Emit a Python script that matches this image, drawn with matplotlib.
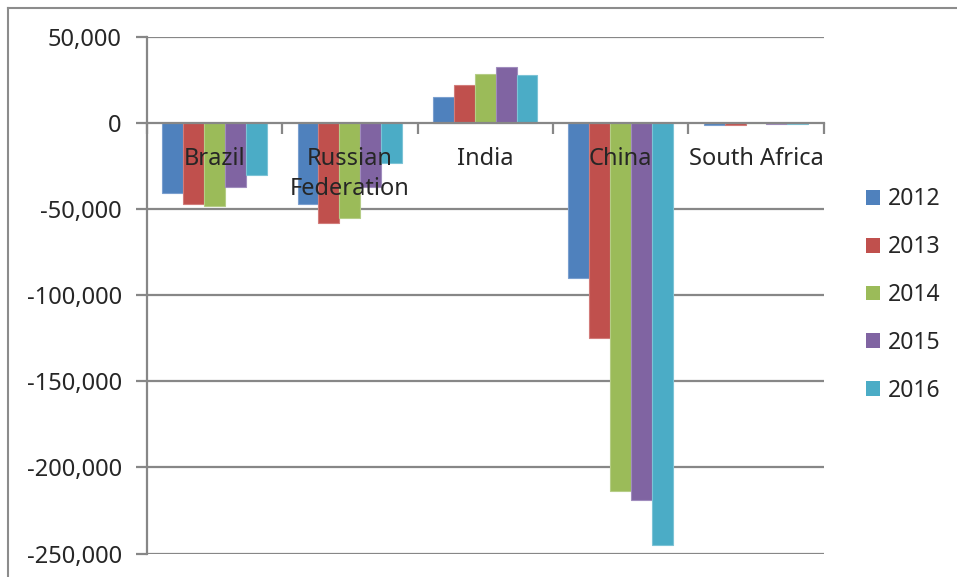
import matplotlib
matplotlib.use("Agg")
import matplotlib.pyplot as plt
from matplotlib.patches import Patch
from matplotlib.lines import Line2D
from matplotlib.ticker import FuncFormatter
import numpy as np

plt.rcParams['font.family'] = ['Noto Sans', 'DejaVu Sans']

countries = ["Brazil", "Russian\nFederation", "India", "China", "South Africa"]
years = ["2012", "2013", "2014", "2015", "2016"]
values = {
    "2012": [-41000, -47000, 15000, -90000, -1000],
    "2013": [-47000, -58000, 22000, -125000, -1100],
    "2014": [-48000, -55000, 28500, -214000, -100],
    "2015": [-37000, -37000, 32500, -219000, -400],
    "2016": [-30500, -23500, 28000, -245000, -400],
}
colors = ["#4F81BD", "#C0504D", "#9BBB59", "#8064A2", "#4BACC6"]
edge_colors = ["#7A9FCF", "#D27C7A", "#B5CD86", "#A08CBD", "#7CC3D6"]

W, H = 957, 577
fig = plt.figure(figsize=(W / 100, H / 100), dpi=100)
ax = fig.add_axes([146.7 / W, 1 - 553.5 / H, (823.7 - 146.7) / W, (553.5 - 36.7) / H])

text_color = "#262626"
grid_color = "#878787"

n = len(years)
group = 0.772
bw = group / n
x0 = np.arange(len(countries)) + (1 - group) / 2
for i, y in enumerate(years):
    ax.bar(x0 + i * bw, values[y], width=bw, align="edge", color=colors[i],
           edgecolor=edge_colors[i], linewidth=0.8, zorder=1, label=y)

for v in range(-250000, 50001, 50000):
    if v != 0:
        ax.axhline(v, color=grid_color, linewidth=1.6, zorder=0)

ax.set_xlim(0, len(countries))
ax.set_ylim(-250000, 50000)
ax.set_yticks(np.arange(-250000, 50001, 50000))
ax.yaxis.set_major_formatter(FuncFormatter(lambda v, p: f"{int(v):,}"))

for s in ["top", "right"]:
    ax.spines[s].set_visible(False)
ax.spines["bottom"].set_position(("data", 0))
for s in ["left", "bottom"]:
    ax.spines[s].set_color(grid_color)
    ax.spines[s].set_linewidth(1.6)

ax.set_xticks(np.arange(len(countries)) + 0.5)
ax.set_xticklabels(countries, linespacing=1.35)
ax.set_xticks(np.arange(len(countries) + 1), minor=True)
ax.tick_params(axis="x", which="major", length=0, pad=17.5, labelsize=17, labelcolor=text_color)
ax.tick_params(axis="x", which="minor", length=8, width=1.6, color=grid_color, direction="out")
ax.tick_params(axis="y", length=8, width=1.6, color=grid_color, direction="out",
               pad=10, labelsize=17, labelcolor=text_color)

handles = [Patch(facecolor=c, edgecolor="none") for c in colors]
leg = fig.legend(handles, years, loc="center left", bbox_to_anchor=(866 / W, 1 - 295 / H),
                 frameon=False, fontsize=16.5, handlelength=0.62, handleheight=0.62,
                 handletextpad=0.35, labelspacing=1.04, borderpad=0, borderaxespad=0)
for t in leg.get_texts():
    t.set_color(text_color)

# outer chart frame
fig.add_artist(Line2D([8 / W, 8 / W], [1 - 7.5 / H, -0.1], transform=fig.transFigure,
                      color="#8C8C8C", linewidth=1.5))
fig.add_artist(Line2D([8 / W, 1.1], [1 - 7.5 / H, 1 - 7.5 / H], transform=fig.transFigure,
                      color="#8C8C8C", linewidth=1.5))

fig.savefig("out.png", dpi=100)
